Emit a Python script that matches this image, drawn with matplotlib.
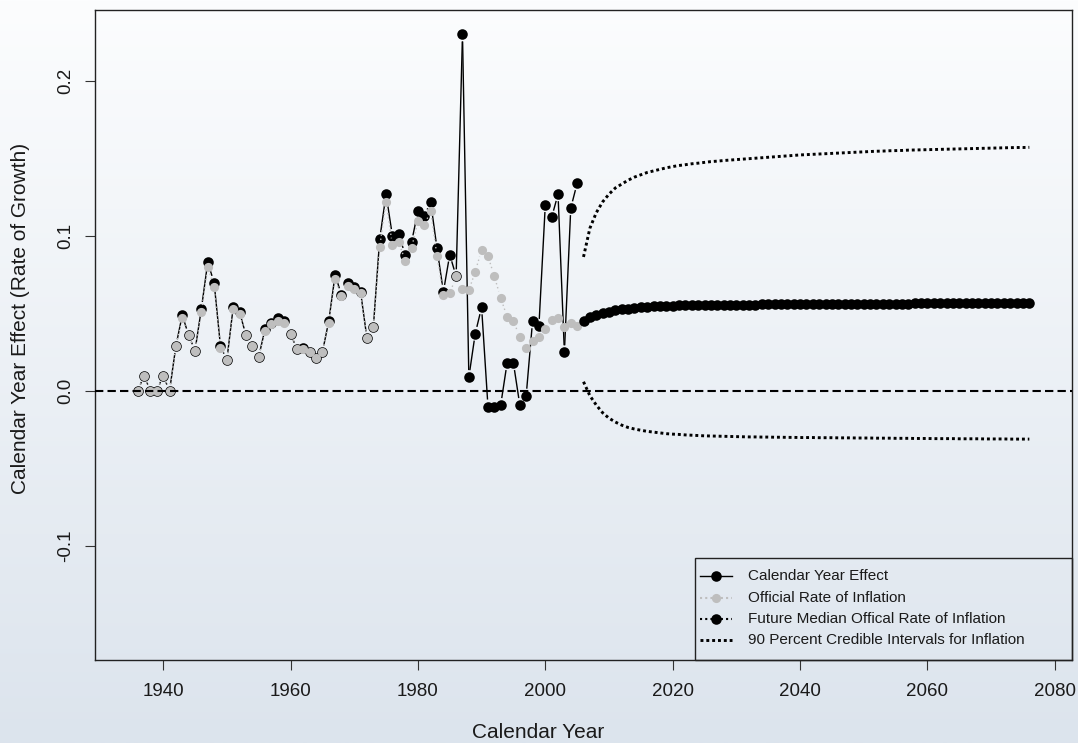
import numpy as np
import matplotlib.pyplot as plt
from matplotlib.collections import LineCollection
from matplotlib.lines import Line2D
from matplotlib.patches import Rectangle

plt.rcParams['font.family'] = ['Liberation Sans', 'DejaVu Sans']

# Historical period
hist_years = np.arange(1936, 2006)

calendar_effect = [
    0.000, 0.010, 0.000, 0.000, 0.010, 0.000, 0.029, 0.049, 0.036, 0.026,
    0.053, 0.083, 0.070, 0.029, 0.020, 0.054, 0.051, 0.036, 0.029, 0.022,
    0.040, 0.044, 0.047, 0.045, 0.037, 0.027, 0.028, 0.025, 0.021, 0.025,
    0.045, 0.075, 0.062, 0.070, 0.067, 0.064, 0.034, 0.041, 0.098, 0.127,
    0.100, 0.101, 0.088, 0.096, 0.116, 0.113, 0.122, 0.092, 0.064, 0.088,
    0.074, 0.230, 0.009, 0.037, 0.054, -0.010, -0.010, -0.009, 0.018, 0.018,
    -0.009, -0.003, 0.045, 0.042, 0.120, 0.112, 0.127, 0.025, 0.118, 0.134,
]

official_inflation = [
    0.000, 0.010, 0.000, 0.000, 0.010, 0.000, 0.029, 0.047, 0.036, 0.026,
    0.051, 0.080, 0.067, 0.028, 0.020, 0.053, 0.050, 0.036, 0.029, 0.022,
    0.039, 0.043, 0.045, 0.044, 0.037, 0.027, 0.027, 0.025, 0.021, 0.025,
    0.044, 0.072, 0.061, 0.068, 0.066, 0.063, 0.034, 0.041, 0.093, 0.122,
    0.094, 0.096, 0.084, 0.092, 0.110, 0.107, 0.116, 0.087, 0.062, 0.063,
    0.074, 0.066, 0.065, 0.077, 0.091, 0.087, 0.074, 0.060, 0.048, 0.045,
    0.035, 0.028, 0.032, 0.035, 0.040, 0.046, 0.047, 0.041, 0.044, 0.042,
]

# Projection period
future_years = np.arange(2006, 2077)

future_median = [
    0.0455, 0.0475, 0.0490, 0.0502, 0.0512, 0.0520, 0.0527, 0.0532, 0.0537, 0.0540,
    0.0543, 0.0546, 0.0548, 0.0550, 0.0551, 0.0552, 0.0553, 0.0554, 0.0555, 0.0555,
    0.0556, 0.0556, 0.0557, 0.0557, 0.0557, 0.0558, 0.0558, 0.0558, 0.0559, 0.0559,
    0.0559, 0.0560, 0.0560, 0.0560, 0.0560, 0.0561, 0.0561, 0.0561, 0.0561, 0.0562,
    0.0562, 0.0562, 0.0562, 0.0563, 0.0563, 0.0563, 0.0563, 0.0564, 0.0564, 0.0564,
    0.0564, 0.0564, 0.0565, 0.0565, 0.0565, 0.0565, 0.0565, 0.0566, 0.0566, 0.0566,
    0.0566, 0.0566, 0.0567, 0.0567, 0.0567, 0.0567, 0.0567, 0.0567, 0.0568, 0.0568,
    0.0568,
]

upper_90 = [
    0.0865, 0.1050, 0.1150, 0.1220, 0.1270, 0.1310, 0.1335, 0.1360, 0.1380, 0.1395,
    0.1410, 0.1420, 0.1430, 0.1440, 0.1448, 0.1455, 0.1460, 0.1466, 0.1470, 0.1475,
    0.1480, 0.1483, 0.1487, 0.1490, 0.1493, 0.1496, 0.1499, 0.1502, 0.1505, 0.1508,
    0.1511, 0.1514, 0.1517, 0.1520, 0.1523, 0.1525, 0.1527, 0.1529, 0.1531, 0.1533,
    0.1535, 0.1537, 0.1539, 0.1541, 0.1543, 0.1545, 0.1547, 0.1548, 0.1550, 0.1551,
    0.1552, 0.1554, 0.1555, 0.1556, 0.1557, 0.1558, 0.1559, 0.1560, 0.1561, 0.1562,
    0.1563, 0.1564, 0.1565, 0.1566, 0.1567, 0.1568, 0.1569, 0.1570, 0.1571, 0.1571,
    0.1572,
]

lower_90 = [
    0.0060, -0.0030, -0.0090, -0.0140, -0.0175, -0.0200, -0.0220, -0.0235, -0.0245, -0.0253,
    -0.0260, -0.0265, -0.0270, -0.0275, -0.0278, -0.0280, -0.0283, -0.0285, -0.0287, -0.0289,
    -0.0290, -0.0291, -0.0292, -0.0293, -0.0294, -0.0295, -0.0296, -0.0296, -0.0297, -0.0297,
    -0.0298, -0.0298, -0.0299, -0.0299, -0.0300, -0.0300, -0.0300, -0.0301, -0.0301, -0.0301,
    -0.0302, -0.0302, -0.0302, -0.0303, -0.0303, -0.0303, -0.0304, -0.0304, -0.0304, -0.0305,
    -0.0305, -0.0305, -0.0306, -0.0306, -0.0306, -0.0307, -0.0307, -0.0307, -0.0307, -0.0308,
    -0.0308, -0.0308, -0.0308, -0.0309, -0.0309, -0.0309, -0.0309, -0.0310, -0.0310, -0.0310,
    -0.0310,
]

legend_labels = [
    'Calendar Year Effect',
    'Official Rate of Inflation',
    'Future Median Offical Rate of Inflation',
    '90 Percent Credible Intervals for Inflation',
]

W, H = 1078, 743
fig = plt.figure(figsize=(W / 100, H / 100), dpi=100)

# soft vertical gradient behind everything
bg = fig.add_axes([0, 0, 1, 1], zorder=-10)
t = np.linspace(0, 1, 256)[:, None, None]
top = np.array([252, 253, 254]) / 255
bottom = np.array([220, 228, 237]) / 255
bg.imshow(top * (1 - t) + bottom * t, aspect='auto', extent=[0, 1, 0, 1])
bg.axis('off')

ax = fig.add_axes([95 / W, 83 / H, 977 / W, 650 / H])
ax.set_facecolor('none')
ax.set_xlim(1929.3, 2082.7)
ax.set_ylim(-0.1735, 0.2458)


def gapped_segments(x, y, gap):
    # shorten each segment by `gap` pixels at both ends (like R's type="b")
    pts = ax.transData.transform(np.column_stack([x, y]))
    inv = ax.transData.inverted()
    segs = []
    for p0, p1 in zip(pts[:-1], pts[1:]):
        d = p1 - p0
        length = np.hypot(*d)
        if length <= 2 * gap:
            continue
        u = d / length
        segs.append(inv.transform(np.array([p0 + u * gap, p1 - u * gap])))
    return segs


grey = '#bebebe'

ax.add_collection(LineCollection(gapped_segments(hist_years, calendar_effect, 7),
                                 colors='black', linewidths=1.0, zorder=2))
ax.plot(hist_years, calendar_effect, 'o', color='black', ms=7.6, mec='none', zorder=3)

ax.add_collection(LineCollection(gapped_segments(hist_years, official_inflation, 7),
                                 colors=grey, linewidths=1.0, linestyles=(0, (1, 2)),
                                 zorder=4))
ax.plot(hist_years, official_inflation, 'o', color=grey, ms=6.6, mec='none', zorder=5)

ax.plot(future_years, future_median, 'o', color='black', ms=7.6, mec='none', zorder=5)

ax.plot(future_years, upper_90, color='black', lw=2.1, ls=(0, (1, 1)), zorder=5)
ax.plot(future_years, lower_90, color='black', lw=2.1, ls=(0, (1, 1)), zorder=5)

ax.axhline(0, color='black', lw=1.5, dashes=(4, 2), zorder=6)

# axes styling
for s in ax.spines.values():
    s.set_linewidth(1.0)
    s.set_color('#222222')
ax.set_xticks([1940, 1960, 1980, 2000, 2020, 2040, 2060, 2080])
ax.set_yticks([-0.1, 0.0, 0.1, 0.2])
ax.set_yticklabels(['-0.1', '0.0', '0.1', '0.2'], rotation=90, va='center')
ax.tick_params(axis='both', direction='out', length=7.2, width=0.8, color='#333333',
               labelsize=13.5, labelcolor='#1a1a1a')
ax.tick_params(axis='x', pad=9.5)
ax.tick_params(axis='y', pad=7.5)

fig.text(538 / W, 1 - 733 / H, 'Calendar Year', ha='center', va='center',
         fontsize=15, color='#1a1a1a')
fig.text(21 / W, 1 - 318 / H, 'Calendar Year Effect (Rate of Growth)', ha='center',
         va='center', rotation=90, fontsize=15, color='#1a1a1a')

# legend box in the lower right corner, laid out in pixels
to_fig = lambda px, py: (px / W, 1 - py / H)
fig.add_artist(Rectangle(to_fig(695, 660), (1072 - 695) / W, (660 - 558) / H,
                         transform=fig.transFigure, fill=False, ec='#222222', lw=1.0,
                         zorder=10))
handle_styles = [
    dict(color='black', lw=1.0, ls='-', mfc='black', ms=7.6),
    dict(color=grey, lw=1.5, ls=(0, (1, 1.5)), mfc=grey, ms=6.6),
    dict(color='black', lw=1.5, ls=(0, (1, 1.5)), mfc='black', ms=7.6),
    dict(color='black', lw=2.1, ls=(0, (1, 1)), mfc=None, ms=0),
]
row_y = [576, 597.5, 619, 640]
for label, style, py in zip(legend_labels, handle_styles, row_y):
    x0, y0 = to_fig(700, py)
    x1, _ = to_fig(732, py)
    fig.add_artist(Line2D([x0, x1], [y0, y0], transform=fig.transFigure,
                          color=style['color'], lw=style['lw'], ls=style['ls'], zorder=10))
    if style['ms']:
        xm, _ = to_fig(716, py)
        fig.add_artist(Line2D([xm], [y0], transform=fig.transFigure, marker='o',
                              ls='none', mfc=style['mfc'], mec='none', ms=style['ms'],
                              zorder=11))
    xt, _ = to_fig(748, py)
    fig.text(xt, y0, label, ha='left', va='center', fontsize=11, color='#1a1a1a',
             zorder=11)

fig.savefig('out.png', dpi=100)
